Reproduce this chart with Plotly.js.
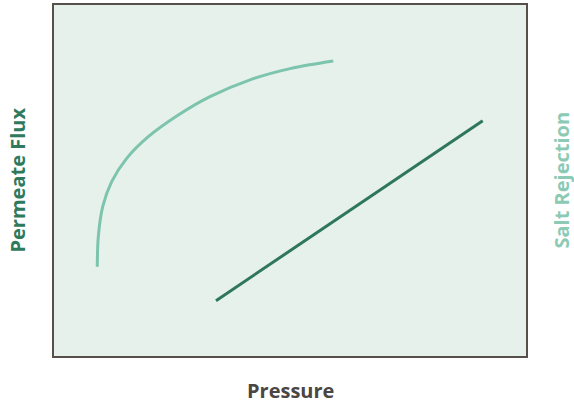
<!DOCTYPE html>
<html>
<head>
<meta charset="utf-8">
<script src="https://cdn.plot.ly/plotly-3.0.1.min.js"></script>
<style>
html,body{margin:0;padding:0;background:#fff;}
#chart{width:574px;height:406px;}
</style>
</head>
<body>
<div id="chart"></div>
<script>
// Salt rejection curve (relative units, 0-100)
const saltPressure = [9.17, 9.39, 10.32, 12.22, 15.40, 19.98, 26.33, 33.05, 41.53, 50.00, 59.17];
const saltRejection = [25.44, 34.00, 42.54, 49.66, 56.32, 62.48, 68.66, 73.90, 78.69, 81.88, 84.05];
// Permeate flux line
const fluxPressure = [34.32, 90.83];
const permeateFlux = [15.75, 67.04];

const xTitle = "Pressure";
const yTitle = "Permeate Flux";
const y2Title = "Salt Rejection";

const darkGreen = "#2f775a";
const lightTeal = "#7cc4ae";
const textFont = "Open Sans, Noto Sans, sans-serif";

const traces = [
  {x: saltPressure, y: saltRejection, yaxis: "y2", type: "scatter", mode: "lines",
   line: {color: lightTeal, width: 3, shape: "spline", smoothing: 1}, hoverinfo: "skip"},
  {x: fluxPressure, y: permeateFlux, type: "scatter", mode: "lines",
   line: {color: darkGreen, width: 3}, hoverinfo: "skip"}
];

const layout = {
  width: 574, height: 406,
  margin: {l: 54, r: 48, t: 5, b: 50, pad: 0},
  paper_bgcolor: "#ffffff",
  plot_bgcolor: "#e6f1ec",
  showlegend: false,
  xaxis: {range: [0, 100], showgrid: false, zeroline: false, showticklabels: false, ticks: "",
          showline: true, mirror: true, linecolor: "#555049", linewidth: 2, fixedrange: true},
  yaxis: {range: [0, 100], showgrid: false, zeroline: false, showticklabels: false, ticks: "",
          showline: true, mirror: true, linecolor: "#555049", linewidth: 2, fixedrange: true},
  yaxis2: {range: [0, 100], overlaying: "y", side: "right", showgrid: false, zeroline: false,
           showticklabels: false, ticks: "", showline: false, fixedrange: true},
  annotations: [
    {text: xTitle, xref: "paper", yref: "paper", x: 0.5, y: 0, xanchor: "center", yanchor: "middle",
     yshift: -34, showarrow: false, font: {family: textFont, size: 20, color: "#4a4643", weight: "bold"}},
    {text: yTitle, xref: "paper", yref: "paper", x: 0, y: 0.5, xanchor: "center", yanchor: "middle",
     xshift: -37, textangle: -90, showarrow: false, font: {family: textFont, size: 20, color: "#2f7a5c", weight: "bold"}},
    {text: y2Title, xref: "paper", yref: "paper", x: 1, y: 0.5, xanchor: "center", yanchor: "middle",
     xshift: 35, textangle: -90, showarrow: false, font: {family: textFont, size: 20, color: "#8ccab5", weight: "bold"}}
  ]
};

Plotly.newPlot("chart", traces, layout, {displayModeBar: false, staticPlot: true});
</script>
</body>
</html>
